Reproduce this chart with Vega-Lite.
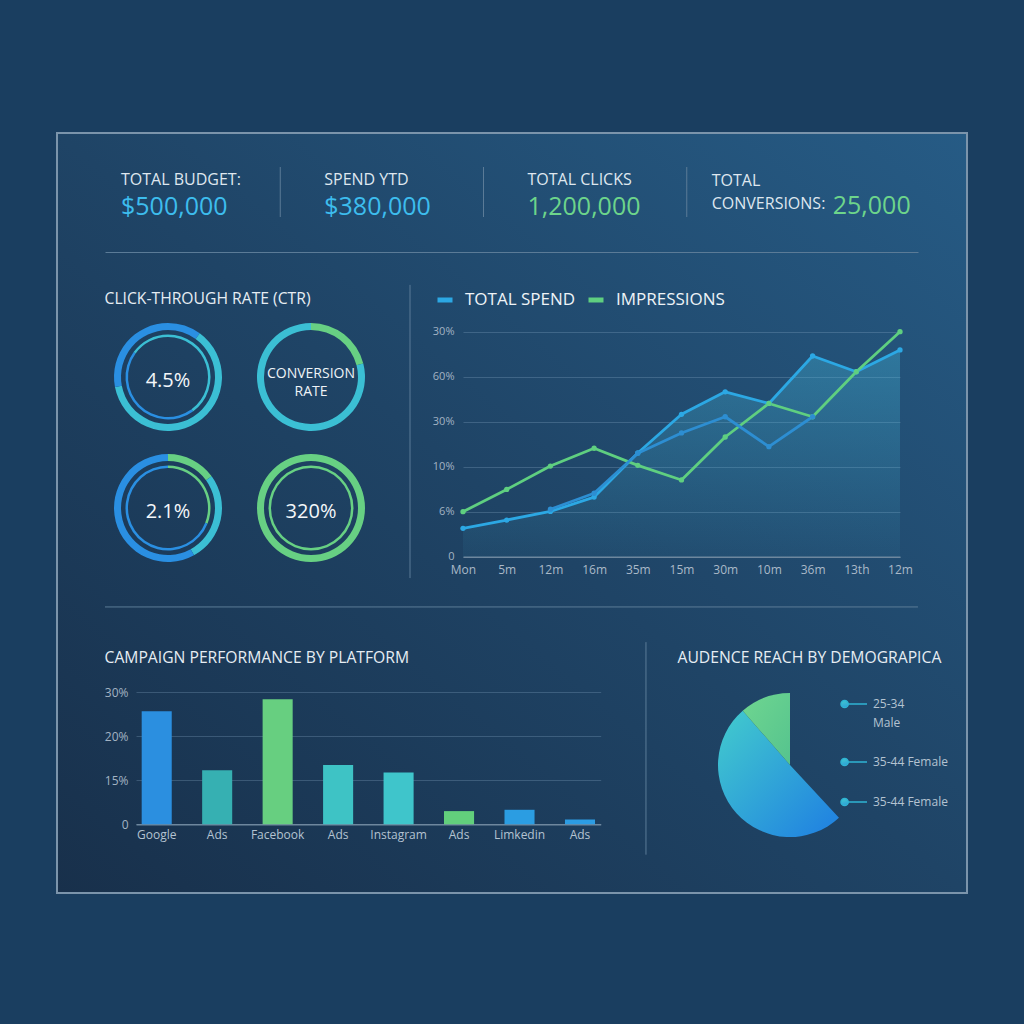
{
"$schema": "https://vega.github.io/schema/vega-lite/v6.json",
"width": 910, "height": 760,
"autosize": {"type": "none"},
"padding": {"left": 57, "top": 133, "right": 57, "bottom": 131},
"background": "#1a3e60",
"config": {
  "font": "Open Sans",
  "view": {"stroke": "#7b94ab", "strokeWidth": 2, "fill": {"gradient": "linear", "x1": 1, "y1": 0, "x2": 0, "y2": 1, "stops": [{"offset": 0, "color": "#265b85"}, {"offset": 0.5, "color": "#1f4466"}, {"offset": 1, "color": "#18304b"}]}}
},
"datasets": {
  "kpis": [
    {"kpi": "TOTAL BUDGET:", "value": "$500,000"},
    {"kpi": "SPEND YTD", "value": "$380,000"},
    {"kpi": "TOTAL CLICKS", "value": "1,200,000"},
    {"kpi": "TOTAL\nCONVERSIONS:", "value": "25,000"}
  ],
  "rings": [
    {"column": "A", "row": "1", "ring": "outer", "metric": "spend", "start": 0, "end": 10},
    {"column": "A", "row": "1", "ring": "outer", "metric": "clicks", "start": 10, "end": 72},
    {"column": "A", "row": "1", "ring": "outer", "metric": "spend", "start": 72, "end": 100},
    {"column": "A", "row": "1", "ring": "inner", "metric": "clicks", "start": 0, "end": 40},
    {"column": "A", "row": "1", "ring": "inner", "metric": "spend", "start": 40, "end": 85},
    {"column": "A", "row": "1", "ring": "inner", "metric": "clicks", "start": 85, "end": 100},
    {"column": "B", "row": "1", "ring": "outer", "metric": "conversions", "start": 0, "end": 21},
    {"column": "B", "row": "1", "ring": "outer", "metric": "clicks", "start": 21, "end": 100},
    {"column": "A", "row": "2", "ring": "outer", "metric": "conversions", "start": 0, "end": 15},
    {"column": "A", "row": "2", "ring": "outer", "metric": "clicks", "start": 15, "end": 42},
    {"column": "A", "row": "2", "ring": "outer", "metric": "spend", "start": 42, "end": 100},
    {"column": "A", "row": "2", "ring": "inner", "metric": "conversions", "start": 0, "end": 31},
    {"column": "A", "row": "2", "ring": "inner", "metric": "spend", "start": 31, "end": 100},
    {"column": "B", "row": "2", "ring": "outer", "metric": "conversions", "start": 0, "end": 100},
    {"column": "B", "row": "2", "ring": "inner", "metric": "conversions", "start": 0, "end": 100}
  ],
  "ringLabels": [
    {"column": "A", "row": "1", "label": "4.5%"},
    {"column": "B", "row": "1", "label": "CONVERSION\nRATE"},
    {"column": "A", "row": "2", "label": "2.1%"},
    {"column": "B", "row": "2", "label": "320%"}
  ],
  "trend": [
    {"period": "Mon", "series": "TOTAL SPEND", "value": 12.6},
    {"period": "5m", "series": "TOTAL SPEND", "value": 16.3},
    {"period": "12m", "series": "TOTAL SPEND", "value": 20.1},
    {"period": "16m", "series": "TOTAL SPEND", "value": 26.5},
    {"period": "35m", "series": "TOTAL SPEND", "value": 46.1},
    {"period": "15m", "series": "TOTAL SPEND", "value": 63.3},
    {"period": "30m", "series": "TOTAL SPEND", "value": 73.3},
    {"period": "10m", "series": "TOTAL SPEND", "value": 68.1},
    {"period": "36m", "series": "TOTAL SPEND", "value": 89.2},
    {"period": "13th", "series": "TOTAL SPEND", "value": 82.2},
    {"period": "12m ", "series": "TOTAL SPEND", "value": 91.9},
    {"period": "Mon", "series": "IMPRESSIONS", "value": 20.0},
    {"period": "5m", "series": "IMPRESSIONS", "value": 29.9},
    {"period": "12m", "series": "IMPRESSIONS", "value": 40.3},
    {"period": "16m", "series": "IMPRESSIONS", "value": 48.2},
    {"period": "35m", "series": "IMPRESSIONS", "value": 40.6},
    {"period": "15m", "series": "IMPRESSIONS", "value": 34.1},
    {"period": "30m", "series": "IMPRESSIONS", "value": 53.2},
    {"period": "10m", "series": "IMPRESSIONS", "value": 68.1},
    {"period": "36m", "series": "IMPRESSIONS", "value": 62.2},
    {"period": "13th", "series": "IMPRESSIONS", "value": 82.2},
    {"period": "12m ", "series": "IMPRESSIONS", "value": 100},
    {"period": "12m", "series": "PRIOR SPEND", "value": 21.1},
    {"period": "16m", "series": "PRIOR SPEND", "value": 28.2},
    {"period": "35m", "series": "PRIOR SPEND", "value": 46.0},
    {"period": "15m", "series": "PRIOR SPEND", "value": 55.0},
    {"period": "30m", "series": "PRIOR SPEND", "value": 62.2},
    {"period": "10m", "series": "PRIOR SPEND", "value": 48.9},
    {"period": "36m", "series": "PRIOR SPEND", "value": 62.2}
  ],
  "platforms": [
    {"platform": "Google", "share": 25.7},
    {"platform": "Ads", "share": 12.3},
    {"platform": "Facebook", "share": 28.4},
    {"platform": "Ads ", "share": 13.5},
    {"platform": "Instagram", "share": 11.8},
    {"platform": "Ads  ", "share": 3.0},
    {"platform": "Limkedin", "share": 3.3},
    {"platform": "Ads   ", "share": 1.1}
  ],
  "audience": [
    {"segment": "35-44 Female ", "share": 38.1},
    {"segment": "35-44 Female", "share": 50.5},
    {"segment": "25-34 Male", "share": 11.4}
  ]
},
"resolve": {"scale": {"x": "independent", "y": "independent", "color": "independent", "theta": "independent", "fill": "independent", "stroke": "independent"}},
"layer": [
  {
    "data": {"values": [{}]},
    "mark": {"type": "rule", "color": "#5b7b97", "strokeWidth": 1, "x2Offset": 101.6},
    "encoding": {
      "x": {"datum": "TOTAL BUDGET:", "type": "nominal", "bandPosition": 0, "scale": {"type": "band", "domain": ["TOTAL BUDGET:", "SPEND YTD", "TOTAL CLICKS", "TOTAL\nCONVERSIONS:"], "range": [48, 861], "paddingInner": 0, "paddingOuter": 0}, "axis": null},
      "x2": {"datum": "TOTAL\nCONVERSIONS:"},
      "y": {"datum": 49.4, "type": "quantitative", "scale": {"type": "linear", "domain": [0, 30], "range": [691.3, 559.3], "nice": false, "zero": false}, "axis": null}
    }
  },
  {
    "data": {"values": [{}]},
    "mark": {"type": "rule", "color": "#5b7b97", "strokeWidth": 1, "xOffset": -53},
    "encoding": {
      "x": {"datum": "Mon", "type": "nominal", "scale": {"type": "point", "domain": ["Mon", "5m", "12m", "16m", "35m", "15m", "30m", "10m", "36m", "13th", "12m "], "range": [406, 843], "padding": 0}, "axis": null},
      "y": {"datum": 120.8, "type": "quantitative", "scale": {"type": "linear", "domain": [0, 100], "range": [423.7, 198.7], "nice": false, "zero": false}, "axis": null},
      "y2": {"datum": -9.5}
    }
  },
  {
    "data": {"values": [{}]},
    "mark": {"type": "rule", "color": "#5b7b97", "strokeWidth": 1, "xOffset": 81},
    "encoding": {
      "x": {"datum": "Ads   ", "type": "nominal", "bandPosition": 0, "scale": {"type": "band", "domain": ["Google", "Ads", "Facebook", "Ads ", "Instagram", "Ads  ", "Limkedin", "Ads   "], "range": [79, 543.7], "paddingInner": 0.503, "paddingOuter": 0.094}, "axis": null},
      "y": {"datum": 41.4, "type": "quantitative", "scale": {"type": "linear", "domain": [0, 30], "range": [691.3, 559.3], "nice": false, "zero": false}, "axis": null},
      "y2": {"datum": -6.9}
    }
  },
  {
    "data": {"name": "kpis"},
    "transform": [{"filter": "datum.kpi != 'TOTAL BUDGET:'"}],
    "mark": {"type": "rule", "color": "#5b7b97", "strokeWidth": 1, "xOffset": -28, "yOffset": -19, "y2Offset": 4.5},
    "encoding": {
      "x": {"field": "kpi", "type": "nominal", "bandPosition": 0, "scale": {"type": "band", "domain": ["TOTAL BUDGET:", "SPEND YTD", "TOTAL CLICKS", "TOTAL\nCONVERSIONS:"], "range": [48, 861], "paddingInner": 0, "paddingOuter": 0}, "axis": null},
      "y": {"datum": "label", "type": "nominal", "scale": {"type": "point", "domain": ["label", "value"], "range": [53, 79.5], "padding": 0}, "axis": null},
      "y2": {"datum": "value"}
    }
  },
  {
    "data": {"name": "kpis"},
    "transform": [{"filter": "indexof(datum.kpi, 'CONVERSIONS') < 0"}],
    "mark": {"type": "text", "align": "left", "baseline": "alphabetic", "dx": 16, "fontSize": 16, "color": "#dfe7ef"},
    "encoding": {
      "x": {"field": "kpi", "type": "nominal", "bandPosition": 0, "scale": {"type": "band", "domain": ["TOTAL BUDGET:", "SPEND YTD", "TOTAL CLICKS", "TOTAL\nCONVERSIONS:"], "range": [48, 861], "paddingInner": 0, "paddingOuter": 0},
        "axis": {"orient": "bottom", "offset": -641, "labels": false, "ticks": false, "grid": false, "title": null, "domain": true, "domainColor": "#5b7b97", "domainWidth": 1}},
      "y": {"datum": "label", "type": "nominal", "scale": {"type": "point", "domain": ["label", "value"], "range": [51.5, 81.5], "padding": 0}, "axis": null},
      "text": {"field": "kpi"}
    }
  },
  {
    "data": {"name": "kpis"},
    "transform": [{"filter": "indexof(datum.kpi, 'CONVERSIONS') >= 0"}],
    "mark": {"type": "text", "align": "left", "baseline": "alphabetic", "dx": -3, "fontSize": 16, "color": "#dfe7ef", "lineBreak": "\n", "lineHeight": 23},
    "encoding": {
      "x": {"field": "kpi", "type": "nominal", "bandPosition": 0, "scale": {"type": "band", "domain": ["TOTAL BUDGET:", "SPEND YTD", "TOTAL CLICKS", "TOTAL\nCONVERSIONS:"], "range": [48, 861], "paddingInner": 0, "paddingOuter": 0}, "axis": null},
      "y": {"datum": "label", "type": "nominal", "scale": {"type": "point", "domain": ["label", "value"], "range": [53, 79.5], "padding": 0}, "axis": null},
      "text": {"field": "kpi"}
    }
  },
  {
    "data": {"name": "kpis"},
    "transform": [{"filter": "indexof(datum.kpi, 'CONVERSIONS') < 0"}],
    "mark": {"type": "text", "align": "left", "baseline": "alphabetic", "dx": 16, "fontSize": 25},
    "encoding": {
      "x": {"field": "kpi", "type": "nominal", "bandPosition": 0, "scale": {"type": "band", "domain": ["TOTAL BUDGET:", "SPEND YTD", "TOTAL CLICKS", "TOTAL\nCONVERSIONS:"], "range": [48, 861], "paddingInner": 0, "paddingOuter": 0}, "axis": null},
      "y": {"datum": "value", "type": "nominal", "scale": {"type": "point", "domain": ["label", "value"], "range": [51.5, 81.5], "padding": 0}, "axis": null},
      "text": {"field": "value"},
      "color": {"field": "kpi", "type": "nominal", "scale": {"domain": ["TOTAL BUDGET:", "SPEND YTD", "TOTAL CLICKS", "TOTAL\nCONVERSIONS:"], "range": ["#3dbdee", "#3dbdee", "#6dd58b", "#6dd58b"]}, "legend": null}
    }
  },
  {
    "data": {"name": "kpis"},
    "transform": [{"filter": "indexof(datum.kpi, 'CONVERSIONS') >= 0"}],
    "mark": {"type": "text", "align": "left", "baseline": "alphabetic", "dx": 118, "fontSize": 25, "color": "#6dd58b"},
    "encoding": {
      "x": {"field": "kpi", "type": "nominal", "bandPosition": 0, "scale": {"type": "band", "domain": ["TOTAL BUDGET:", "SPEND YTD", "TOTAL CLICKS", "TOTAL\nCONVERSIONS:"], "range": [48, 861], "paddingInner": 0, "paddingOuter": 0}, "axis": null},
      "y": {"datum": "value", "type": "nominal", "scale": {"type": "point", "domain": ["label", "value"], "range": [53, 81], "padding": 0}, "axis": null},
      "text": {"field": "value"}
    }
  },
  {
    "data": {"name": "rings"},
    "transform": [{"filter": "datum.ring == 'outer'"}],
    "mark": {"type": "arc", "radius": 54, "radius2": 47},
    "encoding": {
      "x": {"field": "column", "type": "nominal", "scale": {"type": "point", "domain": ["A", "B"], "range": [111, 254], "padding": 0}, "axis": null},
      "y": {"field": "row", "type": "nominal", "scale": {"type": "point", "domain": ["1", "2"], "range": [244, 375], "padding": 0},
        "axis": {"orient": "left", "offset": 0, "labels": false, "ticks": false, "domain": false, "grid": false, "title": "CLICK-THROUGH RATE (CTR)", "titleAngle": 0, "titleAlign": "left", "titleBaseline": "middle", "titleX": 47, "titleY": 165, "titleFontSize": 15.7, "titleFontWeight": "normal", "titleColor": "#e6edf3"}},
      "theta": {"field": "start", "type": "quantitative", "scale": {"type": "linear", "domain": [0, 100], "range": [0, 6.283185]}},
      "theta2": {"field": "end"},
      "color": {"field": "metric", "type": "nominal", "scale": {"domain": ["spend", "clicks", "conversions"], "range": ["#2a8fe2", "#3bbfd4", "#67d083"]}, "legend": null}
    }
  },
  {
    "data": {"name": "rings"},
    "transform": [{"filter": "datum.ring == 'inner'"}],
    "mark": {"type": "arc", "radius": 42.5, "radius2": 40},
    "encoding": {
      "x": {"field": "column", "type": "nominal", "scale": {"type": "point", "domain": ["A", "B"], "range": [111, 254], "padding": 0}, "axis": null},
      "y": {"field": "row", "type": "nominal", "scale": {"type": "point", "domain": ["1", "2"], "range": [244, 375], "padding": 0}, "axis": null},
      "theta": {"field": "start", "type": "quantitative", "scale": {"type": "linear", "domain": [0, 100], "range": [0, 6.283185]}},
      "theta2": {"field": "end"},
      "color": {"field": "metric", "type": "nominal", "scale": {"domain": ["spend", "clicks", "conversions"], "range": ["#2a8fe2", "#3bbfd4", "#67d083"]}, "legend": null}
    }
  },
  {
    "data": {"name": "ringLabels"},
    "transform": [{"filter": "indexof(datum.label, 'CONVERSION') < 0"}],
    "mark": {"type": "text", "align": "center", "baseline": "middle", "fontSize": 20, "dy": 4, "color": "#f4f7fa"},
    "encoding": {
      "x": {"field": "column", "type": "nominal", "scale": {"type": "point", "domain": ["A", "B"], "range": [111, 254], "padding": 0}, "axis": null},
      "y": {"field": "row", "type": "nominal", "scale": {"type": "point", "domain": ["1", "2"], "range": [244, 375], "padding": 0}, "axis": null},
      "text": {"field": "label"}
    }
  },
  {
    "data": {"name": "ringLabels"},
    "transform": [{"filter": "indexof(datum.label, 'CONVERSION') >= 0"}],
    "mark": {"type": "text", "align": "center", "baseline": "middle", "fontSize": 14, "dy": -3, "lineBreak": "\n", "lineHeight": 18, "color": "#eef3f7"},
    "encoding": {
      "x": {"field": "column", "type": "nominal", "scale": {"type": "point", "domain": ["A", "B"], "range": [111, 254], "padding": 0}, "axis": null},
      "y": {"field": "row", "type": "nominal", "scale": {"type": "point", "domain": ["1", "2"], "range": [244, 375], "padding": 0}, "axis": null},
      "text": {"field": "label"}
    }
  },
  {
    "data": {"name": "trend"},
    "encoding": {
      "x": {"field": "period", "type": "nominal", "sort": ["Mon", "5m", "12m", "16m", "35m", "15m", "30m", "10m", "36m", "13th", "12m "],
        "scale": {"type": "point", "domain": ["Mon", "5m", "12m", "16m", "35m", "15m", "30m", "10m", "36m", "13th", "12m "], "range": [406, 843], "padding": 0},
        "axis": {"orient": "bottom", "offset": -336.3, "labelAngle": 0, "labelOverlap": false, "ticks": false, "grid": false, "title": null, "domain": true, "domainColor": "#6e879e", "domainWidth": 1.5, "labelColor": "#aab9c8", "labelFontSize": 12, "labelPadding": 8}},
      "y": {"field": "value", "type": "quantitative", "scale": {"type": "linear", "domain": [0, 100], "range": [423.7, 198.7], "nice": false, "zero": false},
        "axis": {"orient": "left", "offset": -406, "values": [0, 20, 40, 60, 80, 100], "labelExpr": "datum.value == 0 ? '0' : datum.value == 20 ? '6%' : datum.value == 40 ? '10%' : datum.value == 60 ? '30%' : datum.value == 80 ? '60%' : '30%'", "ticks": false, "domain": false, "grid": true, "gridColor": "#8fb0cc", "gridOpacity": 0.28, "gridWidth": 1, "labelColor": "#a3b3c3", "labelFontSize": 11, "labelPadding": 9, "title": null}}
    },
    "layer": [
      {
        "transform": [{"filter": "datum.series == 'TOTAL SPEND'"}],
        "mark": {"type": "area", "line": false, "fill": {"gradient": "linear", "x1": 0, "y1": 0, "x2": 0, "y2": 1, "stops": [{"offset": 0, "color": "rgba(70,190,225,0.34)"}, {"offset": 1, "color": "rgba(70,190,225,0.05)"}]}},
        "encoding": {"y2": {"datum": 0}}
      },
      {
        "mark": {"type": "line", "strokeWidth": 2.8, "strokeJoin": "round", "strokeCap": "round"},
        "encoding": {
          "color": {"field": "series", "type": "nominal", "scale": {"domain": ["TOTAL SPEND", "IMPRESSIONS", "PRIOR SPEND"], "range": ["#2ca8e4", "#5fcf80", "#2d8ed2"]},
            "legend": {"values": ["TOTAL SPEND", "IMPRESSIONS"], "orient": "none", "legendX": 378, "legendY": 157, "direction": "horizontal", "title": null, "symbolType": "stroke", "symbolSize": 225, "symbolStrokeWidth": 5, "labelFontSize": 17, "labelColor": "#eef3f7", "labelOffset": 10, "columnPadding": 2, "gridAlign": "none", "padding": 0}}
        }
      },
      {
        "mark": {"type": "point", "filled": true, "size": 28, "opacity": 1},
        "encoding": {
          "fill": {"field": "series", "type": "nominal", "scale": {"domain": ["TOTAL SPEND", "IMPRESSIONS", "PRIOR SPEND"], "range": ["#2ca8e4", "#5fcf80", "#2d8ed2"]}, "legend": null}
        }
      }
    ]
  },
  {
    "data": {"name": "platforms"},
    "mark": {"type": "bar"},
    "encoding": {
      "x": {"field": "platform", "type": "nominal", "sort": null, "scale": {"type": "band", "domain": ["Google", "Ads", "Facebook", "Ads ", "Instagram", "Ads  ", "Limkedin", "Ads   "], "range": [79, 543.7], "paddingInner": 0.503, "paddingOuter": 0.094},
        "axis": {"orient": "bottom", "offset": -68.7, "labelAngle": 0, "labelOverlap": false, "ticks": false, "grid": false, "title": null, "domain": true, "domainColor": "#6e879e", "domainWidth": 1.5, "labelColor": "#b4c3d1", "labelFontSize": 12, "labelPadding": 5}},
      "y": {"field": "share", "type": "quantitative", "scale": {"type": "linear", "domain": [0, 30], "range": [691.3, 559.3], "nice": false, "zero": false},
        "axis": {"orient": "left", "offset": -79, "values": [0, 10, 20, 30], "labelExpr": "datum.value == 0 ? '0' : datum.value == 10 ? '15%' : datum.value + '%'", "ticks": false, "domain": false, "grid": true, "gridColor": "#8fb0cc", "gridOpacity": 0.28, "labelColor": "#a3b3c3", "labelFontSize": 12, "labelPadding": 8,
          "title": "CAMPAIGN PERFORMANCE BY PLATFORM", "titleAngle": 0, "titleAlign": "left", "titleBaseline": "middle", "titleX": -32, "titleY": 524, "titleFontSize": 15.7, "titleFontWeight": "normal", "titleColor": "#e6edf3"}},
      "color": {"field": "platform", "type": "nominal", "scale": {"domain": ["Google", "Ads", "Facebook", "Ads ", "Instagram", "Ads  ", "Limkedin", "Ads   "], "range": ["#2b8fe0", "#36b0b2", "#67cf80", "#3ec3c5", "#3fc5cb", "#62cf7c", "#2b9de2", "#2c9ce3"]}, "legend": null}
    }
  },
  {
    "data": {"name": "audience"},
    "transform": [{"stack": "share", "groupby": [], "as": ["s0", "s1"]}, {"filter": "datum.segment == '35-44 Female'"}],
    "mark": {"type": "arc", "radius": 72, "strokeOpacity": 0, "fill": {"gradient": "linear", "x1": 0.1, "y1": 0.1, "x2": 0.9, "y2": 0.9, "stops": [{"offset": 0, "color": "#3fc4cf"}, {"offset": 1, "color": "#2286e0"}]}},
    "encoding": {
      "x": {"datum": "reach", "type": "nominal", "scale": {"type": "point", "domain": ["reach"], "range": [733, 733]}, "axis": null},
      "y": {"datum": "reach", "type": "nominal", "scale": {"type": "point", "domain": ["reach"], "range": [632, 632]},
        "axis": {"orient": "left", "offset": 0, "labels": false, "ticks": false, "domain": false, "grid": false, "title": "AUDENCE REACH BY DEMOGRAPICA", "titleAngle": 0, "titleAlign": "left", "titleBaseline": "middle", "titleX": 620, "titleY": 524, "titleFontSize": 15.7, "titleFontWeight": "normal", "titleColor": "#e6edf3"}},
      "theta": {"field": "s0", "type": "quantitative", "scale": {"type": "linear", "domain": [0, 100], "range": [0, 6.283185]}},
      "theta2": {"field": "s1"},
      "stroke": {"field": "segment", "type": "nominal", "scale": {"domain": ["25-34 Male", "35-44 Female", "35-44 Female "], "range": ["#2fb4d4", "#2fb4d4", "#2fb4d4"]},
        "legend": {"orient": "none", "legendX": 776, "legendY": 550, "direction": "vertical", "title": null, "symbolType": "M-0.65,0a0.18,0.18 0 1,0 0.36,0a0.18,0.18 0 1,0 -0.36,0M-0.29,0L0.65,0", "symbolSize": 1600, "symbolStrokeWidth": 1.5, "symbolFillColor": "#2fb4d4", "symbolOpacity": 1, "labelFontSize": 12, "labelColor": "#b4c3d1", "labelOffset": -2, "rowPadding": 12, "padding": 0, "labelLimit": 200, "labelExpr": "datum.label == '25-34 Male' ? ['25-34', 'Male'] : datum.label",
          "encoding": {"labels": {"lineHeight": {"value": 19}}}}}
    }
  },
  {
    "data": {"name": "audience"},
    "transform": [{"stack": "share", "groupby": [], "as": ["s0", "s1"]}, {"filter": "datum.segment == '25-34 Male'"}],
    "mark": {"type": "arc", "radius": 72, "fill": {"gradient": "linear", "x1": 0, "y1": 0, "x2": 1, "y2": 1, "stops": [{"offset": 0, "color": "#6fd690"}, {"offset": 1, "color": "#55c38e"}]}},
    "encoding": {
      "x": {"datum": "reach", "type": "nominal", "scale": {"type": "point", "domain": ["reach"], "range": [733, 733]}, "axis": null},
      "y": {"datum": "reach", "type": "nominal", "scale": {"type": "point", "domain": ["reach"], "range": [632, 632]}, "axis": null},
      "theta": {"field": "s0", "type": "quantitative", "scale": {"type": "linear", "domain": [0, 100], "range": [0, 6.283185]}},
      "theta2": {"field": "s1"}
    }
  }
]
}
